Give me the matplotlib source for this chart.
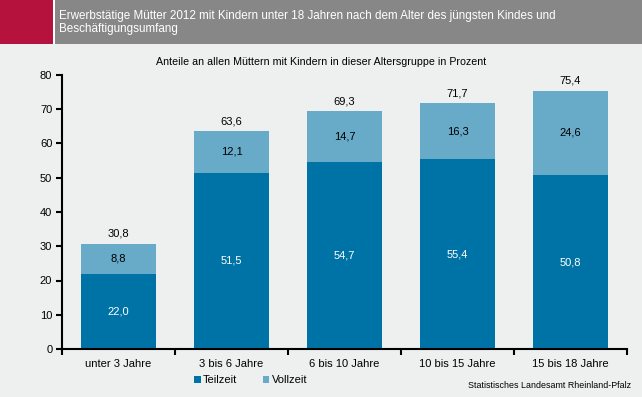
import numpy as np
import matplotlib.pyplot as plt
from matplotlib.patches import Rectangle

categories = ['unter 3 Jahre', '3 bis 6 Jahre', '6 bis 10 Jahre', '10 bis 15 Jahre', '15 bis 18 Jahre']
teilzeit = [22.0, 51.5, 54.7, 55.4, 50.8]
vollzeit = [8.8, 12.1, 14.7, 16.3, 24.6]
totals = [30.8, 63.6, 69.3, 71.7, 75.4]

DARK = '#0073a6'
LIGHT = '#67abc9'
BG = '#eeefef'

plt.rcParams['font.family'] = ['Liberation Sans', 'DejaVu Sans']


def fmt(v):
    return '{:.1f}'.format(v).replace('.', ',')


fig = plt.figure(figsize=(6.42, 3.97), dpi=100)
fig.patch.set_facecolor(BG)

# header band: red block, thin white gap, grey bar
hb = 1 - 44 / 397
fig.patches.append(Rectangle((0, hb), 1, 44 / 397, transform=fig.transFigure,
                             facecolor='white', edgecolor='none'))
fig.patches.append(Rectangle((0, hb), 53 / 642, 44 / 397, transform=fig.transFigure,
                             facecolor='#b5123e', edgecolor='none'))
fig.patches.append(Rectangle((55 / 642, hb), 1, 44 / 397, transform=fig.transFigure,
                             facecolor='#878787', edgecolor='none'))
fig.text(59 / 642, 1 - 16 / 397,
         'Erwerbstätige Mütter 2012 mit Kindern unter 18 Jahren nach dem Alter des jüngsten Kindes und',
         color='white', fontsize=8.4, va='center', ha='left')
fig.text(59 / 642, 1 - 29 / 397, 'Beschäftigungsumfang',
         color='white', fontsize=8.4, va='center', ha='left')

ax = fig.add_axes([62 / 642, 1 - 349 / 397, 565 / 642, 274 / 397])
ax.set_facecolor(BG)

x = np.arange(len(categories))
w = 0.67
ax.bar(x, teilzeit, w, color=DARK, label='Teilzeit')
ax.bar(x, vollzeit, w, bottom=teilzeit, color=LIGHT, label='Vollzeit')

for i in range(len(categories)):
    ax.text(x[i], teilzeit[i] / 2, fmt(teilzeit[i]), ha='center', va='center', color='white', fontsize=8)
    ax.text(x[i], teilzeit[i] + vollzeit[i] / 2, fmt(vollzeit[i]), ha='center', va='center',
            color='black', fontsize=8)
    ax.text(x[i], totals[i] + 1.5, fmt(totals[i]), ha='center', va='bottom', color='black', fontsize=8)

ax.set_xlim(-0.5, len(categories) - 0.5)
ax.set_ylim(0, 80)
ax.set_yticks(range(0, 81, 10))
ax.set_xticks(x)
ax.set_xticklabels(categories, fontsize=8)
ax.set_xticks(np.arange(-0.5, len(categories)), minor=True)
ax.tick_params(axis='x', which='major', length=0, pad=7)
ax.tick_params(axis='x', which='minor', length=4, width=1.5, direction='out')
ax.tick_params(axis='y', length=4, width=1.5, labelsize=8, pad=3)
for s in ['top', 'right']:
    ax.spines[s].set_visible(False)
for s in ['left', 'bottom']:
    ax.spines[s].set_linewidth(1.5)

fig.text(0.5, 1 - 62 / 397, 'Anteile an allen Müttern mit Kindern in dieser Altersgruppe in Prozent',
         ha='center', va='center', fontsize=7.65)

leg = fig.legend(loc='center left', bbox_to_anchor=(194 / 642, 1 - 380 / 397), ncol=2,
                 frameon=False, fontsize=8, handlelength=0.6, handleheight=0.6,
                 handletextpad=0.2, columnspacing=2.3, borderaxespad=0, borderpad=0)

fig.text(631 / 642, 1 - 386 / 397, 'Statistisches Landesamt Rheinland-Pfalz',
         ha='right', va='center', fontsize=6.4)

fig.savefig('out.png', dpi=100, facecolor=BG)
